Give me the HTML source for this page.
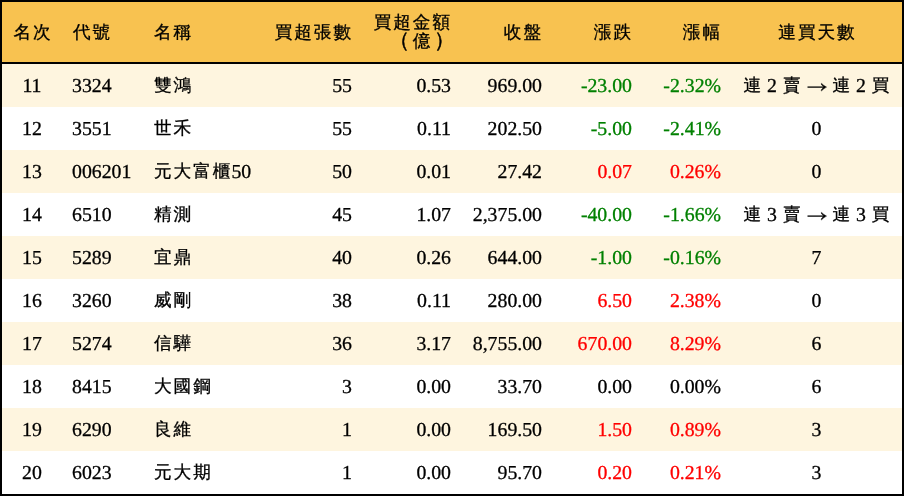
<!DOCTYPE html>
<html><head><meta charset="utf-8">
<style>
html,body{margin:0;padding:0;background:#fff;}
.wrap{position:relative;will-change:transform;width:904px;height:496px;box-sizing:border-box;border:2px solid #000;overflow:hidden;background:#fff;}
table{text-rendering:geometricPrecision;border-collapse:separate;border-spacing:0;table-layout:fixed;width:900px;font-family:"Liberation Serif",serif;font-size:19.8px;color:#000;}
td,th{-webkit-text-stroke:0.3px currentColor;padding:2px 10px 0 10px;white-space:nowrap;font-weight:normal;line-height:23px;}
thead tr{height:62px;background:#F8C250;}
thead th{padding-top:4px;border-bottom:2px solid #000;line-height:19.6px;text-spacing-trim:space-all;}
tbody tr{height:43px;}
tbody tr:nth-child(odd){background:#FEF5DF;}
.c{text-align:center}.l{text-align:left}.r{text-align:right}
.k{font-size:17.6px;letter-spacing:2px;position:relative;left:1px;top:-1px;}
.yi{position:relative;top:-1.5px}
.pa{font-size:21px;letter-spacing:-1.4px;-webkit-text-stroke:0.45px currentColor;}
.g{color:#008000}.red{color:#FF0000}
.arr{display:inline-block;width:20px;height:12px;vertical-align:0;}
</style></head><body>
<div class="wrap">
<table>
<colgroup><col style="width:60px"><col style="width:81px"><col style="width:119px"><col style="width:100px"><col style="width:99px"><col style="width:91px"><col style="width:90px"><col style="width:89px"><col style="width:171px"></colgroup>
<thead><tr><th class="c"><span class="k">名次</span></th><th class="l"><span class="k">代號</span></th><th class="l"><span class="k">名稱</span></th><th class="r"><span class="k">買超張數</span></th><th class="r"><span class="k">買超金額</span><br><span class="yi"><span class="k pa" style="left:-3.5px">（</span><span class="k">億</span><span class="k pa" style="left:2.5px">）</span></span></th><th class="r"><span class="k">收盤</span></th><th class="r"><span class="k">漲跌</span></th><th class="r"><span class="k">漲幅</span></th><th class="c"><span class="k">連買天數</span></th></tr></thead>
<tbody>
<tr><td class="c">11</td><td class="l">3324</td><td class="l"><span class="k">雙鴻</span></td><td class="r">55</td><td class="r">0.53</td><td class="r">969.00</td><td class="r g">-23.00</td><td class="r g">-2.32%</td><td class="c"><span class="k">連</span> 2 <span class="k">賣</span> <svg class="arr" viewBox="0 0 20 12" width="20" height="12"><path d="M0.5 5.95H17.6V7.25H0.5Z" fill="#000" transform="translate(0 0.5)"/><path d="M19.5 6.6C17.6 5.5 15.8 4.3 14.6 2.9L14.0 3.4C14.9 4.6 15.9 5.7 16.9 6.6C15.9 7.5 14.9 8.6 14.0 9.8L14.6 10.3C15.8 8.9 17.6 7.7 19.5 6.6Z" fill="#000" stroke="#000" stroke-width="0.5" transform="translate(0 0.5)"/></svg> <span class="k">連</span> 2 <span class="k">買</span></td></tr>
<tr><td class="c">12</td><td class="l">3551</td><td class="l"><span class="k">世禾</span></td><td class="r">55</td><td class="r">0.11</td><td class="r">202.50</td><td class="r g">-5.00</td><td class="r g">-2.41%</td><td class="c">0</td></tr>
<tr><td class="c">13</td><td class="l">006201</td><td class="l"><span class="k">元大富櫃</span>50</td><td class="r">50</td><td class="r">0.01</td><td class="r">27.42</td><td class="r red">0.07</td><td class="r red">0.26%</td><td class="c">0</td></tr>
<tr><td class="c">14</td><td class="l">6510</td><td class="l"><span class="k">精測</span></td><td class="r">45</td><td class="r">1.07</td><td class="r">2,375.00</td><td class="r g">-40.00</td><td class="r g">-1.66%</td><td class="c"><span class="k">連</span> 3 <span class="k">賣</span> <svg class="arr" viewBox="0 0 20 12" width="20" height="12"><path d="M0.5 5.95H17.6V7.25H0.5Z" fill="#000" transform="translate(0 0.5)"/><path d="M19.5 6.6C17.6 5.5 15.8 4.3 14.6 2.9L14.0 3.4C14.9 4.6 15.9 5.7 16.9 6.6C15.9 7.5 14.9 8.6 14.0 9.8L14.6 10.3C15.8 8.9 17.6 7.7 19.5 6.6Z" fill="#000" stroke="#000" stroke-width="0.5" transform="translate(0 0.5)"/></svg> <span class="k">連</span> 3 <span class="k">買</span></td></tr>
<tr><td class="c">15</td><td class="l">5289</td><td class="l"><span class="k">宜鼎</span></td><td class="r">40</td><td class="r">0.26</td><td class="r">644.00</td><td class="r g">-1.00</td><td class="r g">-0.16%</td><td class="c">7</td></tr>
<tr><td class="c">16</td><td class="l">3260</td><td class="l"><span class="k">威剛</span></td><td class="r">38</td><td class="r">0.11</td><td class="r">280.00</td><td class="r red">6.50</td><td class="r red">2.38%</td><td class="c">0</td></tr>
<tr><td class="c">17</td><td class="l">5274</td><td class="l"><span class="k">信驊</span></td><td class="r">36</td><td class="r">3.17</td><td class="r">8,755.00</td><td class="r red">670.00</td><td class="r red">8.29%</td><td class="c">6</td></tr>
<tr><td class="c">18</td><td class="l">8415</td><td class="l"><span class="k">大國鋼</span></td><td class="r">3</td><td class="r">0.00</td><td class="r">33.70</td><td class="r">0.00</td><td class="r">0.00%</td><td class="c">6</td></tr>
<tr><td class="c">19</td><td class="l">6290</td><td class="l"><span class="k">良維</span></td><td class="r">1</td><td class="r">0.00</td><td class="r">169.50</td><td class="r red">1.50</td><td class="r red">0.89%</td><td class="c">3</td></tr>
<tr><td class="c">20</td><td class="l">6023</td><td class="l"><span class="k">元大期</span></td><td class="r">1</td><td class="r">0.00</td><td class="r">95.70</td><td class="r red">0.20</td><td class="r red">0.21%</td><td class="c">3</td></tr>
</tbody></table>
</div>
</body></html>
